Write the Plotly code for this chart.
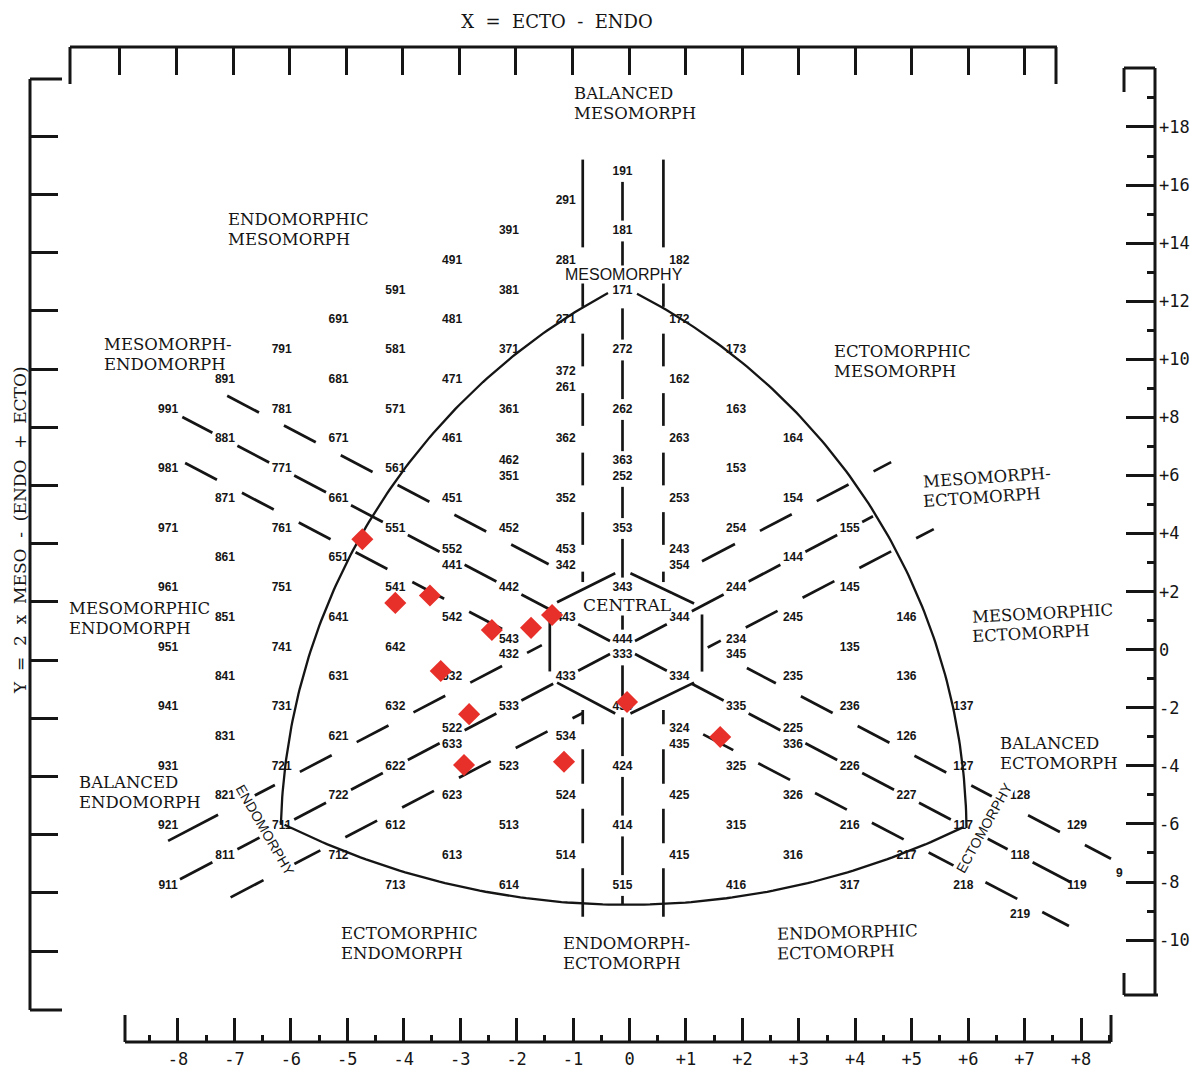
import numpy as np
import plotly.graph_objects as go

W, H = 1196, 1070

# ------------------------------------------------------------------ data
# somatotype grid labels (endomorphy, mesomorphy, ectomorphy)
single_codes = [
    "191", "291", "391", "181", "491", "281", "182", "591", "381", "171",
    "691", "481", "271", "172", "791", "581", "371", "272", "173",
    "891", "681", "471", "162", "991", "781", "571", "361", "262", "163",
    "881", "671", "461", "362", "263", "164", "981", "771", "561", "153",
    "871", "661", "451", "352", "253", "154", "971", "761", "551", "452",
    "353", "254", "155", "861", "651", "144", "961", "751", "541", "442",
    "343", "244", "145", "851", "641", "542", "443", "344", "245", "146",
    "951", "741", "642", "135", "841", "631", "532", "433", "334", "235",
    "136", "941", "731", "632", "533", "434", "335", "236", "137", "831",
    "621", "534", "126", "931", "721", "622", "523", "424", "325", "226",
    "127", "821", "722", "623", "524", "425", "326", "227", "128", "921",
    "711", "612", "513", "414", "315", "216", "117", "129", "811", "712",
    "613", "514", "415", "316", "217", "118", "911", "713", "614", "515",
    "416", "317", "218", "119", "219",
]
stacked_codes = [
    ("372", "261"), ("462", "351"), ("363", "252"), ("552", "441"),
    ("453", "342"), ("243", "354"), ("543", "432"), ("444", "333"),
    ("234", "345"), ("522", "633"), ("324", "435"), ("225", "336"),
]
stray_label = "9"

# plotted subjects (X = ecto - endo, Y = 2*meso - (endo + ecto))
subject_x = [-4.58, -4.00, -3.39, -2.30, -1.61, -1.24, -3.20, -2.70, -2.79, -1.03, 0.08, 1.72]
subject_y = [3.64, 1.50, 1.75, 0.59, 0.66, 1.09, -0.79, -2.24, -3.95, -3.84, -1.83, -3.01]

# ruler ticks
x_ruler_vals = list(range(-8, 9))
x_ruler_text = ["-8", "-7", "-6", "-5", "-4", "-3", "-2", "-1", "0",
                "+1", "+2", "+3", "+4", "+5", "+6", "+7", "+8"]
y_ruler_vals = list(range(-10, 19, 2))
y_ruler_text = ["-10", "-8", "-6", "-4", "-2", "0", "+2", "+4", "+6",
                "+8", "+10", "+12", "+14", "+16", "+18"]

# category names (two lines each)
region_names = [
    ("BALANCED", "MESOMORPH"), ("ENDOMORPHIC", "MESOMORPH"),
    ("MESOMORPH-", "ENDOMORPH"), ("ECTOMORPHIC", "MESOMORPH"),
    ("MESOMORPH-", "ECTOMORPH"), ("MESOMORPHIC", "ECTOMORPH"),
    ("MESOMORPHIC", "ENDOMORPH"), ("BALANCED", "ENDOMORPH"),
    ("BALANCED", "ECTOMORPH"), ("ECTOMORPHIC", "ENDOMORPH"),
    ("ENDOMORPH-", "ECTOMORPH"), ("ENDOMORPHIC", "ECTOMORPH"),
]

# ------------------------------------------------------------- layout geometry
X_PX, Y_PX = 56.8, 29.75      # pixels per chart unit
X0, Y0 = 622.5, 647.5         # pixel of chart origin
x_range = [(0 - X0) / X_PX, (W - X0) / X_PX]
y_range = [(Y0 - H) / Y_PX, Y0 / Y_PX]

# region name placement: (left px, centre py of first line, angle)
region_place = [
    (573, 93, 0), (227, 219, 0), (103, 344, 0), (833, 352, 0),
    (921, 477, -4), (971, 613, -3), (68, 608, 0), (78, 782, 0),
    (999, 743, 0), (340, 933, 0), (562, 943, 0), (776, 932, -1.5),
]
LINE_GAP = 20

INK = "#151515"
SERIF = "DejaVu Serif"
SANS = "Liberation Sans, Arial, sans-serif"
MONO = "DejaVu Sans Mono, monospace"
NUM_SIZE = 12


def soma(code):
    en, me, ec = (int(ch) for ch in code)
    return ec - en, 2 * me - en - ec


def px2paper(px, py):
    return px / W, 1 - py / H


def cut(a, b, centers, half):
    segs = [(min(a, b), max(a, b))]
    for c in centers:
        g0, g1 = c - half, c + half
        new = []
        for s0, s1 in segs:
            if g1 <= s0 or g0 >= s1:
                new.append((s0, s1))
                continue
            if g0 > s0:
                new.append((s0, g0))
            if g1 < s1:
                new.append((g1, s1))
        segs = new
    return [s for s in segs if s[1] - s[0] > 0.04]


# ---------------------------------------------------------------- guide lines
# diagonal category boundaries: family c -> Y = off - X, d -> Y = off + X
diag_lines = [
    ("c", 1.5, -6.96, -1.30, -0.18),
    ("c", 0.0, -7.75, 7.90, 0.00),
    ("c", -1.5, -7.70, -2.12, 0.08),
    ("c", 1.5, 2.19, 8.60, -0.08),
    ("c", -1.5, 1.42, 7.86, 0.17),
    ("d", 1.5, -8.00, -1.42, 0.10),
    ("d", 0.0, -7.79, 4.41, 0.00),
    ("d", -1.5, -6.90, -0.70, -0.10),
    ("d", 1.5, 1.40, 4.73, 0.20),
    ("d", -1.5, 1.50, 5.48, -0.05),
]
gx, gy = [], []
for fam, off, a, b, shift in diag_lines:
    centers = [k + shift for k in range(-10, 11) if a + 0.3 < k + shift < b - 0.3]
    sgn = -1 if fam == "c" else 1
    for s0, s1 in cut(a, b, centers, 0.22):
        gx += [s0, s1, None]
        gy += [off + sgn * s0, off + sgn * s1, None]

# vertical boundaries
vert_lines = [
    (-0.70, 16.4, 2.2, [3, 5, 7, 9, 11, 13], 0.45),
    (-0.70, -2.1, -9.05, [-3, -5, -7], 0.42),
    (0.72, 16.4, 2.2, [3, 5, 7, 9, 11, 13], 0.45),
    (0.72, -2.1, -9.05, [-3, -5, -7], 0.42),
]
for xv, a, b, cs, half in vert_lines:
    for s0, s1 in cut(a, b, cs, half):
        gx += [xv, xv, None]
        gy += [s0, s1, None]
# mesomorphy axis (X = 0)
wide = {12: 0.6, 6: 0.6, 0: 0.6}
centre_segs = [(16.0, -8.65)]
for yv in range(16, -10, -2):
    half = wide.get(yv, 0.35)
    centre_segs = [s for seg in centre_segs for s in cut(seg[0], seg[1], [yv], half)]
for s0, s1 in centre_segs:
    gx += [0, 0, None]
    gy += [s0, s1, None]

# central hexagon
hexagon = [(0, 2.62), (1.4, 1.35), (1.4, -1.05), (0, -2.35), (-1.28, -1.05), (-1.28, 1.4)]
for i in range(6):
    (x1, y1), (x2, y2) = hexagon[i], hexagon[(i + 1) % 6]
    f0, f1 = 0.1, 0.9
    gx += [x1 + f0 * (x2 - x1), x1 + f1 * (x2 - x1), None]
    gy += [y1 + f0 * (y2 - y1), y1 + f1 * (y2 - y1), None]

# outer boundary arcs (circles on the page): centre X, centre Y, rx, ry, t0, t1
arcs = [
    (4.967, -6.538, 10.986, 20.975, 3.169, 4.217),
    (-4.665, -6.296, 10.722, 20.471, -1.094, -0.0112),
    (0.0704, 17.234, 13.556, 25.882, 1.1186, 2.031),
]
ax_, ay_ = [], []
for xc, yc, rx, ry, t0, t1 in arcs:
    t = np.linspace(t0, t1, 120)
    ax_ += list(xc + rx * np.cos(t)) + [None]
    ay_ += list(yc - ry * np.sin(t)) + [None]

fig = go.Figure()
fig.add_trace(go.Scatter(x=gx, y=gy, mode="lines", line=dict(color=INK, width=2.7),
                         hoverinfo="skip", showlegend=False))
fig.add_trace(go.Scatter(x=ax_, y=ay_, mode="lines", line=dict(color=INK, width=2.3),
                         hoverinfo="skip", showlegend=False))

# somatotype labels
sx = [soma(c)[0] for c in single_codes]
sy = [soma(c)[1] for c in single_codes]
fig.add_trace(go.Scatter(x=sx, y=sy, mode="text", text=single_codes,
                         textfont=dict(family=SANS, size=NUM_SIZE, color=INK, weight="bold"),
                         textposition="middle center", hoverinfo="skip", showlegend=False))
px_ = [soma(a)[0] for a, b in stacked_codes]
py_ = [soma(a)[1] for a, b in stacked_codes]
fig.add_trace(go.Scatter(x=px_, y=py_, mode="text",
                         text=[f"{a}<br>{b}" for a, b in stacked_codes],
                         textfont=dict(family=SANS, size=NUM_SIZE, color=INK, weight="bold"),
                         textposition="middle center", hoverinfo="skip", showlegend=False))

# subjects
fig.add_trace(go.Scatter(x=subject_x, y=subject_y, mode="markers",
                         marker=dict(symbol="diamond", size=17, color="#e8302a", line=dict(width=0)),
                         hoverinfo="skip", showlegend=False))

# dummy traces so that ruler axes exist
fig.add_trace(go.Scatter(x=[None], y=[None], xaxis="x2", yaxis="y2", showlegend=False, hoverinfo="skip"))
fig.add_trace(go.Scatter(x=[None], y=[None], xaxis="x3", yaxis="y3", showlegend=False, hoverinfo="skip"))

annotations = []
for (l1, l2), (lx, ly, ang) in zip(region_names, region_place):
    for j, txt in enumerate((l1, l2)):
        xp, yp = px2paper(lx, ly + j * LINE_GAP)
        bg = "white" if (txt == "MESOMORPHIC" and lx < 200) else "rgba(0,0,0,0)"
        annotations.append(dict(x=xp, y=yp, xref="paper", yref="paper", text=txt,
                                showarrow=False, xanchor="left", yanchor="middle",
                                textangle=ang, bgcolor=bg, borderpad=0,
                                font=dict(family=SERIF, size=16.5, color=INK)))

specials = [
    ("MESOMORPHY", 624, 275, 0, SANS, 16),
    ("CENTRAL", 627, 605, 0, SERIF, 17),
    ("ENDOMORPHY", 265, 830, 60, SANS, 14),
    ("ECTOMORPHY", 984, 828, -61, SANS, 14),
]
for txt, lx, ly, ang, fam, size in specials:
    xp, yp = px2paper(lx, ly)
    annotations.append(dict(x=xp, y=yp, xref="paper", yref="paper", text=txt,
                            showarrow=False, xanchor="center", yanchor="middle",
                            textangle=ang, bgcolor="white", borderpad=0,
                            font=dict(family=fam, size=size, color=INK)))
xp, yp = px2paper(1125, 882)
annotations.append(dict(x=xp, y=yp, xref="paper", yref="paper", text=stray_label,
                        showarrow=False, font=dict(family=SANS, size=NUM_SIZE, color=INK, weight="bold")))
# Y axis title
xp, yp = px2paper(20, 530)
annotations.append(dict(x=xp, y=yp, xref="paper", yref="paper",
                        text="Y  =  2  x  MESO  -  (ENDO  +  ECTO)", textangle=-90,
                        showarrow=False, xanchor="center", yanchor="middle",
                        font=dict(family=SERIF, size=17, color=INK)))


# ruler frame lines
def pline(x0, y0, x1, y1, w=3):
    a = px2paper(x0, y0)
    b = px2paper(x1, y1)
    return dict(type="line", xref="paper", yref="paper", x0=a[0], y0=a[1], x1=b[0], y1=b[1],
                line=dict(color=INK, width=w))


shapes = [
    pline(70, 47, 1057, 47), pline(70, 47, 70, 84), pline(1056, 47, 1056, 84),
    pline(30, 79, 30, 1010), pline(30, 79, 62, 79), pline(30, 1010, 62, 1010),
    pline(1155, 68, 1155, 995), pline(1124, 68, 1155, 68), pline(1124, 68, 1124, 92),
    pline(1124, 995, 1158, 995), pline(1124, 973, 1124, 995),
    pline(125, 1042, 1111, 1042), pline(125, 1015, 125, 1042), pline(1111, 1015, 1111, 1042),
]

# ruler scales (pixel calibration of the printed rulers)
bx0, bsc = 629.5, 56.44   # bottom ruler
tx0, tsc = 629.0, 56.56   # top ruler
ry0, rsc = 649.7, 29.04   # right ruler
ly0, lsc = 660.0, 29.10   # left ruler

fig.update_layout(
    width=W, height=H, margin=dict(l=0, r=0, t=0, b=0, pad=0),
    paper_bgcolor="white", plot_bgcolor="white", showlegend=False,
    title=dict(text="X  =  ECTO  -  ENDO", x=557 / W, y=1 - 22 / H, xanchor="center",
               yanchor="middle", xref="paper", yref="paper",
               font=dict(family=SERIF, size=18, color=INK)),
    xaxis=dict(range=x_range, visible=False, domain=[0, 1], fixedrange=True),
    yaxis=dict(range=y_range, visible=False, domain=[0, 1], fixedrange=True),
    xaxis2=dict(overlaying="x", anchor="free", position=1 - 1042 / H, side="bottom",
                range=[-bx0 / bsc, (W - bx0) / bsc], tickmode="array",
                tickvals=x_ruler_vals, ticktext=x_ruler_text, ticks="inside",
                ticklen=24, tickwidth=3, tickcolor=INK, showline=False, showgrid=False,
                zeroline=False, ticklabelstandoff=5, fixedrange=True,
                tickfont=dict(family=MONO, size=17, color=INK),
                minor=dict(tickmode="array", tickvals=[v + 0.5 for v in range(-9, 9)],
                           ticks="inside", ticklen=7, tickwidth=2.5, tickcolor=INK,
                           showgrid=False)),
    xaxis3=dict(overlaying="x", anchor="free", position=1 - 47 / H, side="top",
                range=[-tx0 / tsc, (W - tx0) / tsc], tickmode="array",
                tickvals=list(range(-9, 8)), showticklabels=False, ticks="inside",
                ticklen=27, tickwidth=3, tickcolor=INK, showline=False, showgrid=False,
                zeroline=False, fixedrange=True),
    yaxis2=dict(overlaying="y", anchor="free", position=1155 / W, side="right",
                range=[(ry0 - H) / rsc, ry0 / rsc], tickmode="array",
                tickvals=y_ruler_vals, ticktext=y_ruler_text, ticks="inside",
                ticklen=29, tickwidth=3, tickcolor=INK, showline=False, showgrid=False,
                zeroline=False, ticklabelstandoff=3, fixedrange=True,
                tickfont=dict(family=MONO, size=17, color=INK),
                minor=dict(tickmode="array", tickvals=list(range(-9, 20, 2)),
                           ticks="inside", ticklen=8, tickwidth=2.5, tickcolor=INK,
                           showgrid=False)),
    yaxis3=dict(overlaying="y", anchor="free", position=30 / W, side="left",
                range=[(ly0 - H) / lsc, ly0 / lsc], tickmode="array",
                tickvals=y_ruler_vals, showticklabels=False, ticks="inside",
                ticklen=27, tickwidth=3, tickcolor=INK, showline=False, showgrid=False,
                zeroline=False, fixedrange=True),
    annotations=annotations,
    shapes=shapes,
)

fig.write_html("out.html", config={"displayModeBar": False},
               post_script="document.body.style.margin='0px';")
